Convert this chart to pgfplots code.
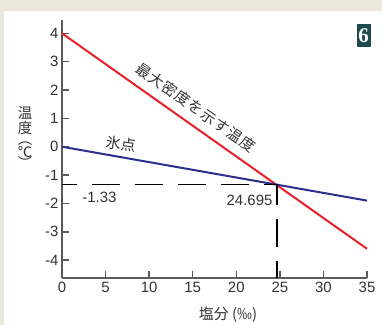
\documentclass[border=0pt]{standalone}
\usepackage{pgfplots}
\pgfplotsset{compat=1.18}
\usepackage{fontspec}
\setmainfont{Liberation Sans}
\newfontfamily\cjk{Noto Sans CJK JP}
\newfontfamily\cjkls[LetterSpace=6]{Noto Sans CJK JP}
\newfontfamily\serifb{Liberation Serif}
\definecolor{bg}{HTML}{EBE7DD}
\definecolor{axisgray}{HTML}{5A5A5A}
\definecolor{lbl}{HTML}{333333}
\definecolor{myred}{HTML}{E8202A}
\definecolor{myblue}{HTML}{2E2E8E}
\definecolor{teal6}{HTML}{1D4A4E}
\begin{document}
\begin{tikzpicture}
\fill[bg] (0,0) rectangle (382bp,325bp);
\fill[white] (4bp,0) rectangle (382bp,314bp);
\fill[teal6] (356.5bp,278.3bp) rectangle (370.5bp,301bp);
\node[white, inner sep=0, font=\serifb\bfseries\fontsize{21}{21}\selectfont] at (363.5bp,289.6bp) {6};
\begin{axis}[
  at={(62bp,47bp)}, anchor=south west,
  scale only axis, width=305bp, height=258bp,
  xmin=0, xmax=35, ymin=-4.63, ymax=4.47,
  axis lines=left,
  axis line style={-, draw=axisgray, line width=2bp},
  xtick={0,5,...,35}, ytick={-4,-3,...,4},
  xtick pos=bottom, ytick pos=left,
  tick align=inside,
  major tick length=7bp,
  tick style={draw=axisgray, line width=1.5bp},
  /pgf/number format/assume math mode=true,
  ticklabel style={font=\fontsize{15}{15}\selectfont, text=lbl},
  xticklabel style={yshift=-1bp},
  clip=false,
]
\addplot[myred, line width=2bp] coordinates {(0,4) (35,-3.6)};
\addplot[myblue, line width=2bp] coordinates {(0,0) (35,-1.9)};
\addplot[black, line width=1.6bp, dash pattern=on 28bp off 15bp, dash phase=13bp] coordinates {(0,-1.33) (24.695,-1.33)};
\addplot[black, line width=1.6bp, dash pattern=on 28bp off 14bp, dash phase=7bp] coordinates {(24.695,-1.33) (24.695,-4.63)};
\node[font=\cjkls\fontsize{15}{15}\selectfont, rotate=-35, text=lbl, inner sep=0] at (axis cs:15.32,1.38) {最大密度を示す温度};
\node[font=\cjk\fontsize{15}{15}\selectfont, rotate=-8, text=lbl, inner sep=0] at (axis cs:6.77,0.09) {氷点};
\node[font=\fontsize{15}{15}\selectfont, text=lbl, inner sep=0] at (axis cs:4.3,-1.785) {-1.33};
\node[font=\fontsize{15}{15}\selectfont, text=lbl, inner sep=0] at (axis cs:21.52,-1.89) {24.695};
\end{axis}
\begin{scope}[every node/.style={font=\cjk\fontsize{14.5}{14.5}\selectfont, text=lbl, inner sep=0, text height=10bp, text depth=1bp}]
\node at (25bp,210.5bp) {温};
\node at (25bp,196bp) {度};
\node at (25bp,184.5bp) {︵};
\node at (25bp,172bp) {℃};
\node at (25bp,160.5bp) {︶};
\end{scope}
\node[font=\cjk\fontsize{15}{15}\selectfont, text=lbl] at (228bp,10bp) {塩分 (‰)};
\pgfresetboundingbox
\path (0,0) rectangle (382bp,325bp);
\end{tikzpicture}
\end{document}
